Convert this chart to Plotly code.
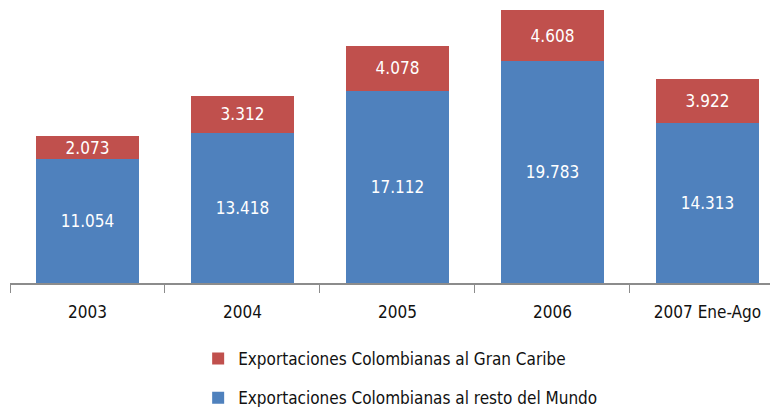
import plotly.graph_objects as go

categories = ["2003", "2004", "2005", "2006", "2007 Ene-Ago"]
resto_mundo = [11.054, 13.418, 17.112, 19.783, 14.313]
gran_caribe = [2.073, 3.312, 4.078, 4.608, 3.922]

FONT = "DejaVu Sans Condensed"

fig = go.Figure()
fig.add_trace(go.Bar(
    x=categories, y=resto_mundo,
    name="Exportaciones Colombianas al resto del Mundo",
    marker=dict(color="#4F81BD", line=dict(width=0)),
    text=[f"{v:.3f}" for v in resto_mundo],
    textposition="inside", insidetextanchor="middle", constraintext="none",
    textfont=dict(color="white", size=17, family=FONT),
    legendgroup="b", legendrank=2, width=0.665,
))
fig.add_trace(go.Bar(
    x=categories, y=gran_caribe,
    name="Exportaciones Colombianas al Gran Caribe",
    marker=dict(color="#C0504D", line=dict(width=0)),
    text=[f"{v:.3f}" for v in gran_caribe],
    textposition="inside", insidetextanchor="middle", constraintext="none",
    textfont=dict(color="white", size=17, family=FONT),
    legendgroup="a", legendrank=1, width=0.665,
))

fig.update_layout(
    barmode="stack",
    width=778, height=407,
    margin=dict(l=2, r=8, t=0, b=132, autoexpand=False),
    plot_bgcolor="white", paper_bgcolor="white",
    font=dict(family=FONT, size=17, color="#111"),
    showlegend=True,
    legend=dict(
        x=0.245, y=-0.211, xanchor="left", yanchor="top",
        traceorder="grouped", tracegroupgap=14,
        font=dict(size=17, family=FONT, color="#111"),
        itemwidth=30,
    ),
    xaxis=dict(
        type="category", range=[-0.5, 4.455], automargin=False,
        showline=True, linecolor="#8c8c8c", linewidth=1.5,
        ticks="outside", tickson="boundaries", ticklen=8, tickcolor="#8c8c8c",
        ticklabelstandoff=13,
        tickfont=dict(size=17, family=FONT, color="#111"),
        showgrid=False,
    ),
    yaxis=dict(
        range=[0, 24.55], visible=False, showgrid=False, zeroline=False,
        automargin=False,
    ),
)

fig.write_html("out.html")
